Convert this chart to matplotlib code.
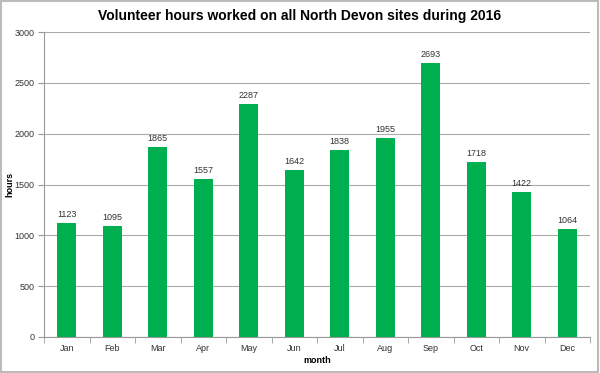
import matplotlib.pyplot as plt
from matplotlib.patches import Rectangle

months = ['Jan', 'Feb', 'Mar', 'Apr', 'May', 'Jun', 'Jul', 'Aug', 'Sep', 'Oct', 'Nov', 'Dec']
hours = [1123, 1095, 1865, 1557, 2287, 1642, 1838, 1955, 2693, 1718, 1422, 1064]
yticks = [0, 500, 1000, 1500, 2000, 2500, 3000]

plt.rcParams['font.family'] = ['Liberation Sans', 'DejaVu Sans']

fig = plt.figure(figsize=(6, 3.73), dpi=100)
ax = fig.add_axes([44 / 600, 1 - 337 / 373, (590 - 44) / 600, (337 - 32) / 373])

x = list(range(len(months)))
ax.bar(x, hours, width=0.42, color='#00B050', zorder=3)
for xi, h in zip(x, hours):
    ax.text(xi, h + 40, str(h), ha='center', va='bottom', fontsize=6.5, color='#333333')

ax.set_xlim(-0.5, len(months) - 0.5)
ax.set_ylim(0, 3000)
ax.set_yticks(yticks)
ax.set_yticklabels([str(v) for v in yticks], fontsize=6.5, color='#333333')
ax.set_xticks(x)
ax.set_xticklabels(months, fontsize=6.5, color='#333333')
ax.tick_params(axis='x', length=0, pad=5)
ax.set_xticks([i - 0.5 for i in range(len(months) + 1)], minor=True)
ax.tick_params(axis='x', which='minor', length=4, color='#999999')
ax.tick_params(axis='y', length=4, color='#999999', pad=3)
ax.grid(axis='y', color='#aaaaaa', linewidth=0.8, zorder=0)

for side in ['top', 'right']:
    ax.spines[side].set_visible(False)
ax.spines['left'].set_color('#999999')
ax.spines['bottom'].set_color('#999999')

ax.set_xlabel('month', fontsize=6.5, fontweight='bold', labelpad=2)
ax.set_ylabel('hours', fontsize=6.5, fontweight='bold')
ax.yaxis.set_label_coords(-0.055, 0.5)
fig.text(0.5, 1 - 16 / 373, 'Volunteer hours worked on all North Devon sites during 2016',
         ha='center', va='center', fontsize=10, fontweight='bold')

fig.patches.append(Rectangle((0.002, 0.004), 0.994, 0.992, transform=fig.transFigure,
                             fill=False, edgecolor='#bbbbbb', linewidth=1.5))

fig.savefig('out.png', dpi=100)
